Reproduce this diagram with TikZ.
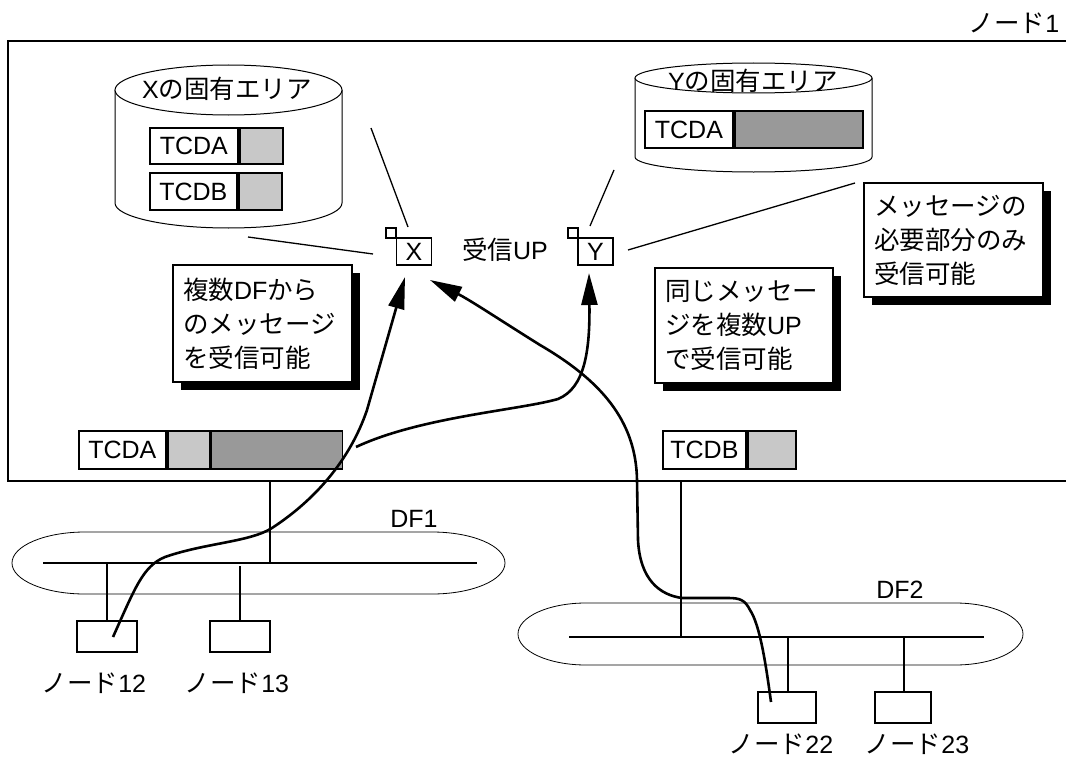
\documentclass[tikz,border=0pt]{standalone}
\usepackage{fontspec}
\setmainfont{Liberation Sans}
\newfontfamily\jpf[Scale=1.02]{Noto Sans CJK JP}
\newcommand\J[1]{{\jpf #1}}
\usetikzlibrary{arrows.meta,shadows}
\definecolor{grayA}{RGB}{200,200,200}
\definecolor{grayB}{RGB}{153,153,153}
\begin{document}
\begin{tikzpicture}[x=1pt,y=-1pt,
  font=\fontsize{25}{34}\selectfont,
  frame/.style={line width=2pt},
  thin/.style={line width=1.3pt},
  cyl/.style={line width=1pt, fill=white},
  cell/.style={draw, line width=1.8pt, inner sep=0pt, anchor=west},
  light/.style={cell, fill=grayA},
  dark/.style={cell, fill=grayB},
  msg/.style={draw, line width=2pt, fill=white, align=left, inner xsep=10pt, inner ysep=0pt,
    text width=159pt, minimum width=179pt,
    general shadow={fill=black, shadow xshift=8pt, shadow yshift=-8pt}},
  flow/.style={line width=2.6pt, -{Triangle[length=32pt,width=16pt]}},
  bus/.style={line width=2pt},
  stub/.style={line width=1.5pt},
  hostbox/.style={draw, line width=2pt, minimum width=60pt, minimum height=31pt, inner sep=0pt},
  df/.style={line width=0.8pt},
  upbox/.style={draw, line width=1.8pt, minimum width=35pt, minimum height=27pt, inner sep=0pt},
  tiny/.style={draw, line width=1.5pt, minimum width=10pt, minimum height=10pt, inner sep=0pt},
  lbl/.style={inner sep=0pt}
]
\useasboundingbox (0,0) rectangle (1066,760);

% node 1 frame
\node[lbl] (n1lbl) at (1014,23) {\J{ノード}1};
\coordinate (ftl) at (8,41);
\coordinate (ftr) at (1066,41);
\coordinate (fbl) at (7,481);
\coordinate (fbr) at (1066,481);
\draw[frame] (ftr) -- (ftl) -- (8,481);
\draw[frame] (fbl) -- (fbr);

% cylinder X
\draw[cyl] (115,90) -- (115,203) arc[start angle=180,end angle=0,x radius=113.5,y radius=25] -- (342,90);
\draw[cyl] (228.5,90) ellipse[x radius=113.5,y radius=25];
\node[lbl] (xlbl) at (227,89) {X\J{の固有エリア}};
\node[cell, minimum width=88pt, minimum height=36pt] (xa1) at (149,146) {TCDA};
\node[light, minimum width=43pt, minimum height=36pt] (xa2) at (xa1.east) {};
\node[cell, minimum width=87pt, minimum height=37pt] (xb1) at (149,191.5) {TCDB};
\node[light, minimum width=43pt, minimum height=37pt] (xb2) at (xb1.east) {};

% cylinder Y
\draw[cyl] (635,78) -- (635,157) arc[start angle=180,end angle=0,x radius=118.5,y radius=15] -- (872,78);
\draw[cyl] (753.5,78) ellipse[x radius=118.5,y radius=15];
\node[lbl] (ylbl) at (753,81) {Y\J{の固有エリア}};
\node[cell, minimum width=88pt, minimum height=37pt] (ya1) at (644,129.5) {TCDA};
\node[dark, minimum width=128pt, minimum height=37pt] (ya2) at (ya1.east) {};

% receiving UPs
\node[upbox] (xup) at (414,251.5) {X};
\node[tiny] (xt) at (391,233) {};
\node[upbox] (yup) at (595.5,251.5) {Y};
\node[tiny] (yt) at (573,233) {};
\node[lbl] (uplbl) at (505,250) {\J{受信}UP};

\coordinate (lx1) at (371,128);
\coordinate (lx1e) at (408,227);
\coordinate (lx2) at (248,237);
\coordinate (lx2e) at (373,254);
\coordinate (ly1) at (614,170);
\coordinate (ly1e) at (590,226);
\coordinate (ly2) at (855,183);
\coordinate (ly2e) at (628,250);
\draw[thin] (lx1) -- (lx1e);
\draw[thin] (lx2) -- (lx2e);
\draw[thin] (ly1) -- (ly1e);
\draw[thin] (ly2) -- (ly2e);

% callouts
\node[msg, minimum height=114pt] (c1) at (953.5,240) {\J{メッセージの}\\\J{必要部分のみ}\\\J{受信可能}};
\node[msg, minimum height=117pt] (c2) at (262.5,323.5) {\J{複数}DF\J{から}\\\J{のメッセージ}\\\J{を受信可能}};
\node[msg, minimum height=115pt, minimum width=178pt, text width=158pt] (c3) at (744,325.5) {\J{同じメッセー}\\\J{ジを複数}UP\\\J{で受信可能}};

% lower buffers
\node[cell, minimum width=87pt, minimum height=38pt] (ba1) at (78,450) {TCDA};
\node[light, minimum width=42pt, minimum height=38pt] (ba2) at (ba1.east) {};
\node[dark, minimum width=131pt, minimum height=38pt] (ba3) at (ba2.east) {};
\node[cell, minimum width=83pt, minimum height=38pt] (bb1) at (662,450) {TCDB};
\node[light, minimum width=48pt, minimum height=38pt] (bb2) at (bb1.east) {};

% DF1
\draw[df] (85,532) -- (432,532) arc[start angle=-90,end angle=90,x radius=73,y radius=31] -- (85,594) arc[start angle=90,end angle=270,x radius=73,y radius=31] -- cycle;
\coordinate (b1l) at (43,563);
\coordinate (b1r) at (477,563);
\draw[bus] (b1l) -- (b1r);
\coordinate (t1) at (270,481);
\coordinate (t1b) at (270,563);
\draw[stub] (t1) -- (t1b);
\node[lbl] (df1) at (414,519) {DF1};
\node[hostbox] (h12) at (107,636.5) {};
\node[hostbox] (h13) at (240,636.5) {};
\coordinate (s12) at (107,563);
\coordinate (s13) at (240,566);
\draw[stub] (s12) -- (h12.north);
\draw[stub] (s13) -- (h13.north);
\node[lbl] (l12) at (94,683) {\J{ノード}12};
\node[lbl] (l13) at (237,683) {\J{ノード}13};

% DF2
\draw[df] (586,603) -- (955,603) arc[start angle=-90,end angle=90,x radius=68,y radius=31] -- (586,665) arc[start angle=90,end angle=270,x radius=68,y radius=31] -- cycle;
\coordinate (b2l) at (569,637);
\coordinate (b2r) at (984,637);
\draw[bus] (b2l) -- (b2r);
\coordinate (t2) at (681,481);
\coordinate (t2b) at (681,637);
\draw[stub] (t2) -- (t2b);
\node[lbl] (df2) at (900,590) {DF2};
\node[hostbox, minimum width=58pt] (h22) at (787,707.5) {};
\node[hostbox, minimum width=56pt] (h23) at (903,707.5) {};
\coordinate (s22) at (788,637);
\coordinate (s23) at (904,637);
\draw[stub] (s22) -- (s22 |- h22.north);
\draw[stub] (s23) -- (s23 |- h23.north);
\node[lbl] (l22) at (781,744) {\J{ノード}22};
\node[lbl] (l23) at (917,744) {\J{ノード}23};

% message flows
\coordinate (p12) at (113,637);
\coordinate (px) at (405,277);
\coordinate (split) at (356,447);
\coordinate (py) at (589,273);
\coordinate (p22) at (771,702);
\coordinate (px2) at (430,280);
\draw[flow] (p12) .. controls (135,588) and (143,566) .. (165,557)
  .. controls (205,543) and (250,542) .. (272,528)
  .. controls (315,500) and (350,460) .. (367,410) -- (px);
\draw[flow] (split) .. controls (420,417) and (520,410) .. (558,399)
  .. controls (585,388) and (590,350) .. (py);
\draw[flow] (p22) .. controls (766,665) and (760,625) .. (750,610)
  .. controls (745,600) and (740,598) .. (728,598) -- (682,598)
  .. controls (660,595) and (640,580) .. (638,540) -- (637,480)
  .. controls (636,420) and (600,380) .. (540,345)
  .. controls (500,320) and (470,300) .. (px2);
\end{tikzpicture}
\end{document}
